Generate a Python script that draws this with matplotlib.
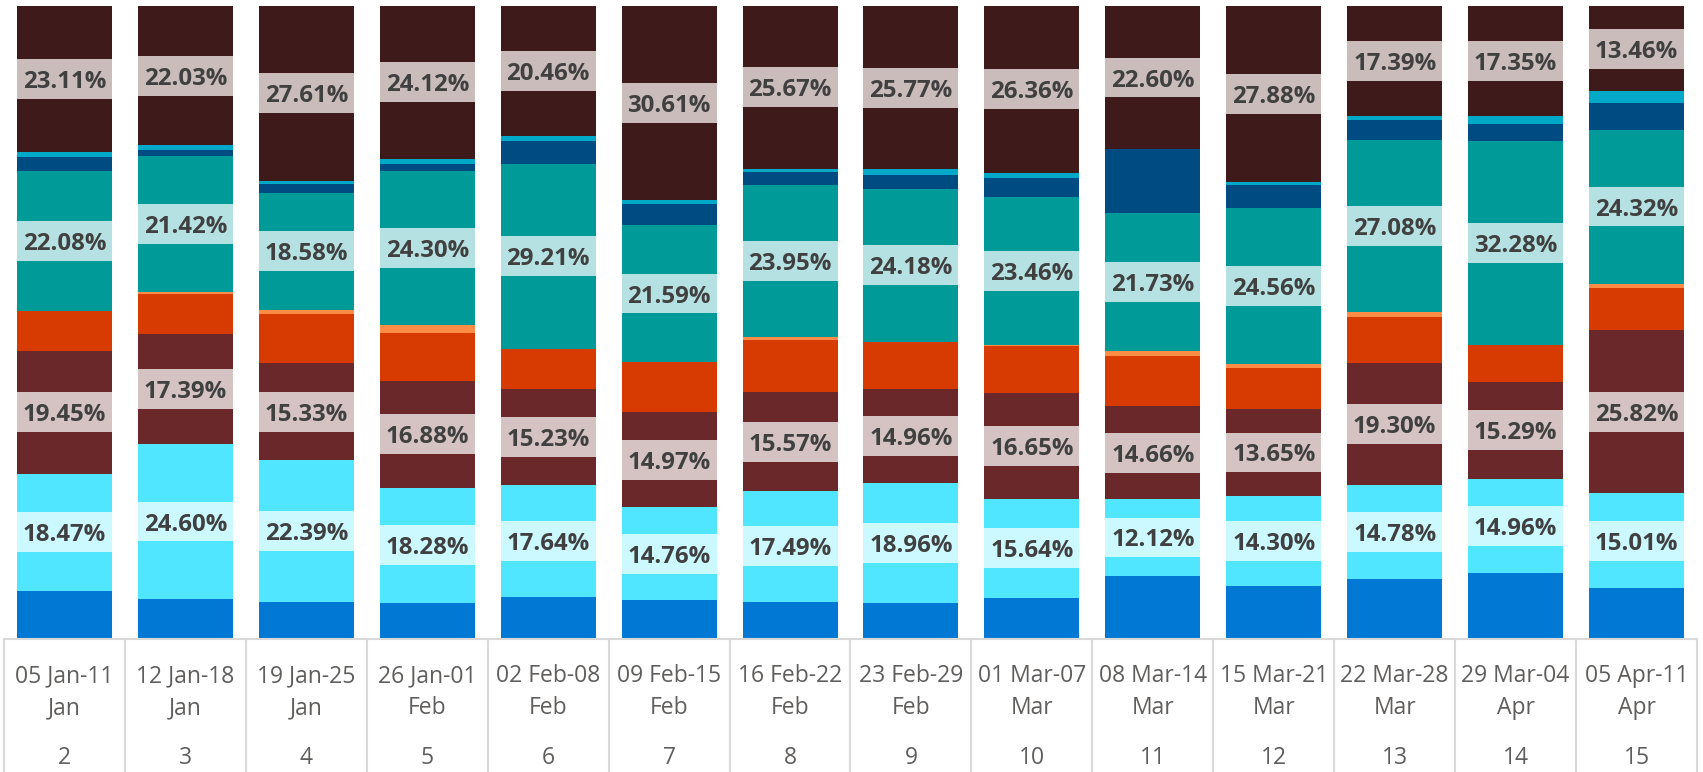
import matplotlib.pyplot as plt
import matplotlib.transforms as mtransforms
import numpy as np

plt.rcParams['font.family'] = ['Open Sans', 'DejaVu Sans']

weeks = ["05 Jan-11\nJan", "12 Jan-18\nJan", "19 Jan-25\nJan", "26 Jan-01\nFeb",
         "02 Feb-08\nFeb", "09 Feb-15\nFeb", "16 Feb-22\nFeb", "23 Feb-29\nFeb",
         "01 Mar-07\nMar", "08 Mar-14\nMar", "15 Mar-21\nMar", "22 Mar-28\nMar",
         "29 Mar-04\nApr", "05 Apr-11\nApr"]
week_no = [2, 3, 4, 5, 6, 7, 8, 9, 10, 11, 12, 13, 14, 15]

# shares per week (%), bottom to top of the stack
blue       = [7.61, 6.26, 5.83, 5.65, 6.66, 6.10, 5.90, 5.65, 6.55, 9.98, 8.34, 9.48, 10.36, 7.98]
cyan       = [18.47, 24.60, 22.39, 18.28, 17.64, 14.76, 17.49, 18.96, 15.64, 12.12, 14.30, 14.78, 14.96, 15.01]
brown      = [19.45, 17.39, 15.33, 16.88, 15.23, 14.97, 15.57, 14.96, 16.65, 14.66, 13.65, 19.30, 15.29, 25.82]
orange_red = [6.32, 6.31, 7.81, 7.60, 6.36, 7.95, 8.30, 7.36, 7.40, 7.90, 6.57, 7.36, 5.83, 6.71]
orange     = [0.00, 0.33, 0.59, 1.23, 0.00, 0.00, 0.50, 0.00, 0.20, 0.90, 0.60, 0.79, 0.00, 0.64]
teal       = [22.08, 21.42, 18.58, 24.30, 29.21, 21.59, 23.95, 24.18, 23.46, 21.73, 24.56, 27.08, 32.28, 24.32]
dark_blue  = [2.15, 1.02, 1.38, 1.03, 3.63, 3.30, 2.10, 2.12, 2.89, 10.11, 3.70, 3.27, 2.66, 4.19]
light_blue = [0.81, 0.64, 0.48, 0.92, 0.81, 0.72, 0.50, 1.00, 0.85, 0.00, 0.40, 0.52, 1.27, 1.87]
dark_brown = [23.11, 22.03, 27.61, 24.12, 20.46, 30.61, 25.67, 25.77, 26.36, 22.60, 27.88, 17.39, 17.35, 13.46]

series = [
    (blue,       "#0078D4", None),
    (cyan,       "#50E6FF", "#CCF8FF"),
    (brown,      "#6A282B", "#D5C3C3"),
    (orange_red, "#D83B01", None),
    (orange,     "#FF8C45", None),
    (teal,       "#009A98", "#B6E1E2"),
    (dark_blue,  "#004B81", None),
    (light_blue, "#00A9C8", None),
    (dark_brown, "#3F1A1A", "#C9BCBB"),
]

fig = plt.figure(figsize=(17.03, 7.72), dpi=100)
ax = fig.add_axes([4 / 1703, 133 / 772, 1693 / 1703, 633 / 772])

x = np.arange(len(weeks))
width = 0.785
label_h = 6.3

bottom = np.zeros(len(weeks))
for values, color, label_bg in series:
    vals = np.array(values)
    ax.bar(x, vals, width, bottom=bottom, color=color, linewidth=0)
    if label_bg is not None:
        mid = bottom + vals / 2
        ax.bar(x, label_h, width, bottom=mid - label_h / 2, color=label_bg, linewidth=0)
        for xi, m, v in zip(x, mid, vals):
            ax.text(xi, m, f"{v:.2f}%", ha="center", va="center_baseline",
                    fontsize=17.3, fontweight="bold", color="#404040")
    bottom += vals

ax.set_xlim(-0.5, len(weeks) - 0.5)
ax.set_ylim(0, 100)
ax.axis("off")

# category grid below the bars
trans = mtransforms.blended_transform_factory(ax.transData, ax.transAxes)
ax.plot([-0.5, len(weeks) - 0.5], [0, 0], color="#D9D9D9", lw=1.5,
        transform=trans, clip_on=False)
for b in np.arange(-0.5, len(weeks), 1.0):
    ax.plot([b, b], [0, -140 / 633], color="#D9D9D9", lw=1.5,
            transform=trans, clip_on=False)

for xi, name, n in zip(x, weeks, week_no):
    ax.annotate(name, (xi, 0), xycoords=trans, xytext=(0, -53), textcoords="offset pixels",
                ha="center", va="center", fontsize=16.5, color="#605E5C",
                linespacing=1.45, annotation_clip=False)
    ax.annotate(str(n), (xi, 0), xycoords=trans, xytext=(0, -119), textcoords="offset pixels",
                ha="center", va="center", fontsize=16.5, color="#605E5C",
                annotation_clip=False)

fig.savefig("out.png", dpi=100, facecolor="white")
